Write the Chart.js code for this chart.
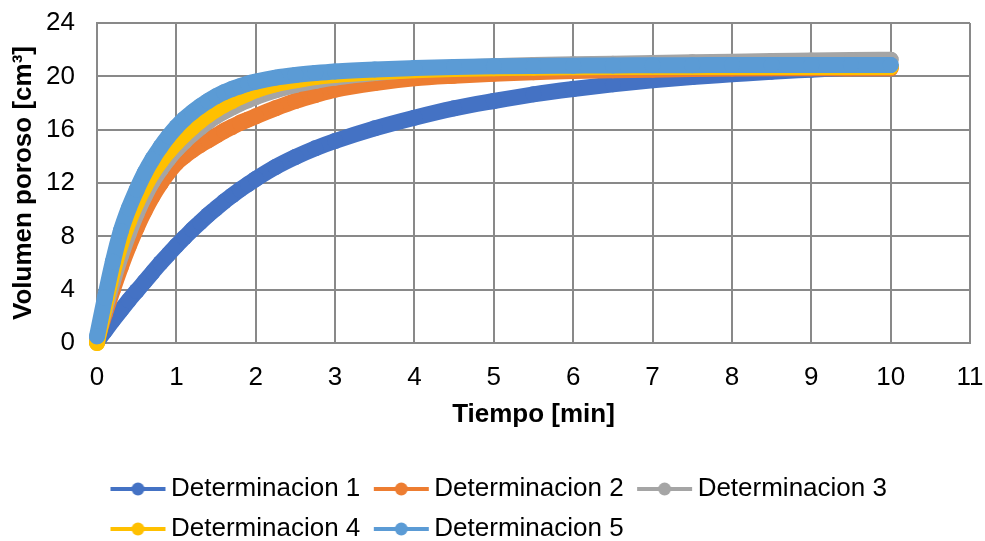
<!DOCTYPE html>
<html>
<head>
<meta charset="utf-8">
<script src="https://cdn.jsdelivr.net/npm/chart.js@4/dist/chart.umd.min.js"></script>
<style>
  html, body { margin: 0; padding: 0; background: #fff; }
  canvas { display: block; }
</style>
</head>
<body>
<canvas id="chart" width="985" height="541"></canvas>
<script>
// tiempo [min]
const tiempo = [0, 0.1, 0.2, 0.3, 0.4, 0.5, 0.6, 0.7, 0.8, 0.9, 1.0, 1.1, 1.2, 1.3, 1.4, 1.5, 1.6, 1.7, 1.8, 1.9, 2.0,
  2.25, 2.5, 2.75, 3, 3.5, 4, 4.5, 5, 5.5, 6, 6.5, 7, 7.5, 8, 8.5, 9, 9.5, 10];

// volumen poroso [cm3]
const det1 = [0.1, 0.9, 1.7, 2.45, 3.2, 3.9, 4.6, 5.3, 6.0, 6.65, 7.3, 7.9, 8.5, 9.05, 9.6, 10.1, 10.6, 11.05, 11.5, 11.9, 12.3,
  13.2, 13.95, 14.6, 15.15, 16.1, 16.9, 17.6, 18.15, 18.65, 19.05, 19.4, 19.7, 19.95, 20.15, 20.35, 20.5, 20.65, 20.75];
const det2 = [0.3, 2.2, 4.0, 5.7, 7.25, 8.65, 9.9, 11.0, 11.95, 12.8, 13.5, 14.0, 14.45, 14.85, 15.2, 15.55, 15.9, 16.2, 16.5, 16.75, 17.0,
  17.6, 18.15, 18.6, 19.0, 19.5, 19.85, 20.05, 20.2, 20.3, 20.4, 20.45, 20.5, 20.55, 20.58, 20.6, 20.6, 20.6, 20.6];
const det3 = [0.3, 2.5, 4.6, 6.5, 8.2, 9.7, 11.0, 12.1, 13.0, 13.8, 14.5, 15.1, 15.65, 16.15, 16.6, 17.0, 17.35, 17.65, 17.95, 18.2, 18.45,
  18.95, 19.35, 19.65, 19.9, 20.25, 20.5, 20.65, 20.75, 20.85, 20.9, 20.95, 21.0, 21.05, 21.1, 21.15, 21.18, 21.22, 21.25];
const det4 = [0.0, 2.8, 5.3, 7.4, 9.1, 10.5, 11.7, 12.75, 13.6, 14.35, 15.0, 15.6, 16.15, 16.65, 17.1, 17.5, 17.85, 18.15, 18.45, 18.7, 18.95,
  19.4, 19.7, 19.95, 20.1, 20.3, 20.45, 20.55, 20.6, 20.65, 20.68, 20.7, 20.7, 20.7, 20.7, 20.7, 20.7, 20.7, 20.7];
const det5 = [0.5, 3.4, 6.1, 8.4, 10.1, 11.5, 12.75, 13.8, 14.7, 15.5, 16.2, 16.8, 17.3, 17.75, 18.15, 18.5, 18.8, 19.05, 19.25, 19.45, 19.6,
  19.9, 20.1, 20.25, 20.37, 20.52, 20.62, 20.7, 20.75, 20.78, 20.8, 20.82, 20.83, 20.84, 20.85, 20.85, 20.85, 20.85, 20.85];

const names = ['Determinacion 1', 'Determinacion 2', 'Determinacion 3', 'Determinacion 4', 'Determinacion 5'];
const colors = ['#4472C4', '#ED7D31', '#A5A5A5', '#FFC000', '#5B9BD5'];
const series = [det1, det2, det3, det4, det5];

const font = "'Liberation Sans', Arial, sans-serif";

// legend symbol: line with a dot in the middle
function legendSymbol(color) {
  const c = document.createElement('canvas');
  c.width = 80; c.height = 20;
  const g = c.getContext('2d');
  g.strokeStyle = color;
  g.lineWidth = 4;
  g.beginPath();
  g.moveTo(16, 10);
  g.lineTo(71, 10);
  g.stroke();
  g.fillStyle = color;
  g.beginPath();
  g.arc(43.5, 10, 6.5, 0, Math.PI * 2);
  g.fill();
  return c;
}

const datasets = series.map((s, i) => ({
  label: names[i],
  data: tiempo.map((t, k) => ({ x: t, y: s[k] })),
  borderColor: colors[i],
  backgroundColor: colors[i],
  borderWidth: 16,
  borderCapStyle: 'round',
  borderJoinStyle: 'round',
  pointRadius: 8,
  pointBorderWidth: 0,
  pointHoverRadius: 8,
  cubicInterpolationMode: 'monotone',
  clip: false,
  order: 5 - i
}));

new Chart(document.getElementById('chart'), {
  type: 'line',
  data: { datasets: datasets },
  options: {
    responsive: false,
    animation: false,
    layout: { padding: { left: 4, right: 15, top: 23, bottom: 0 } },
    scales: {
      x: {
        type: 'linear',
        min: 0, max: 11,
        ticks: { stepSize: 1, color: '#000', padding: 19, font: { family: font, size: 26 } },
        grid: { color: '#898989', lineWidth: 2, drawTicks: false },
        border: { color: '#898989', width: 2 },
        title: { display: true, text: 'Tiempo [min]', color: '#000', font: { family: font, size: 26, weight: 'bold' }, padding: { top: 4, bottom: 32 } },
        afterFit: s => { s.height = 119; s.paddingLeft = 0; s.paddingRight = 0; }
      },
      y: {
        min: 0, max: 24,
        ticks: { stepSize: 4, color: '#000', padding: 22, font: { family: font, size: 26 } },
        grid: { color: '#898989', lineWidth: 2, drawTicks: false },
        border: { color: '#898989', width: 2 },
        title: { display: true, text: 'Volumen poroso [cm³]', color: '#000', font: { family: font, size: 26, weight: 'bold' }, padding: { top: 4, bottom: 4 } },
        afterFit: s => { s.width = 93; s.paddingTop = 0; s.paddingBottom = 0; }
      }
    },
    plugins: {
      tooltip: { enabled: false },
      legend: {
        position: 'bottom',
        align: 'start',
        fullSize: false,
        maxHeight: 79,
        labels: {
          usePointStyle: true,
          pointStyleWidth: 47,
          padding: 14,
          color: '#000',
          font: { family: font, size: 26 },
          sort: (a, b) => a.datasetIndex - b.datasetIndex,
          generateLabels: chart => Chart.defaults.plugins.legend.labels.generateLabels(chart).map(l => {
            l.pointStyle = legendSymbol(colors[l.datasetIndex]);
            return l;
          })
        }
      }
    }
  }
});
</script>
</body>
</html>
